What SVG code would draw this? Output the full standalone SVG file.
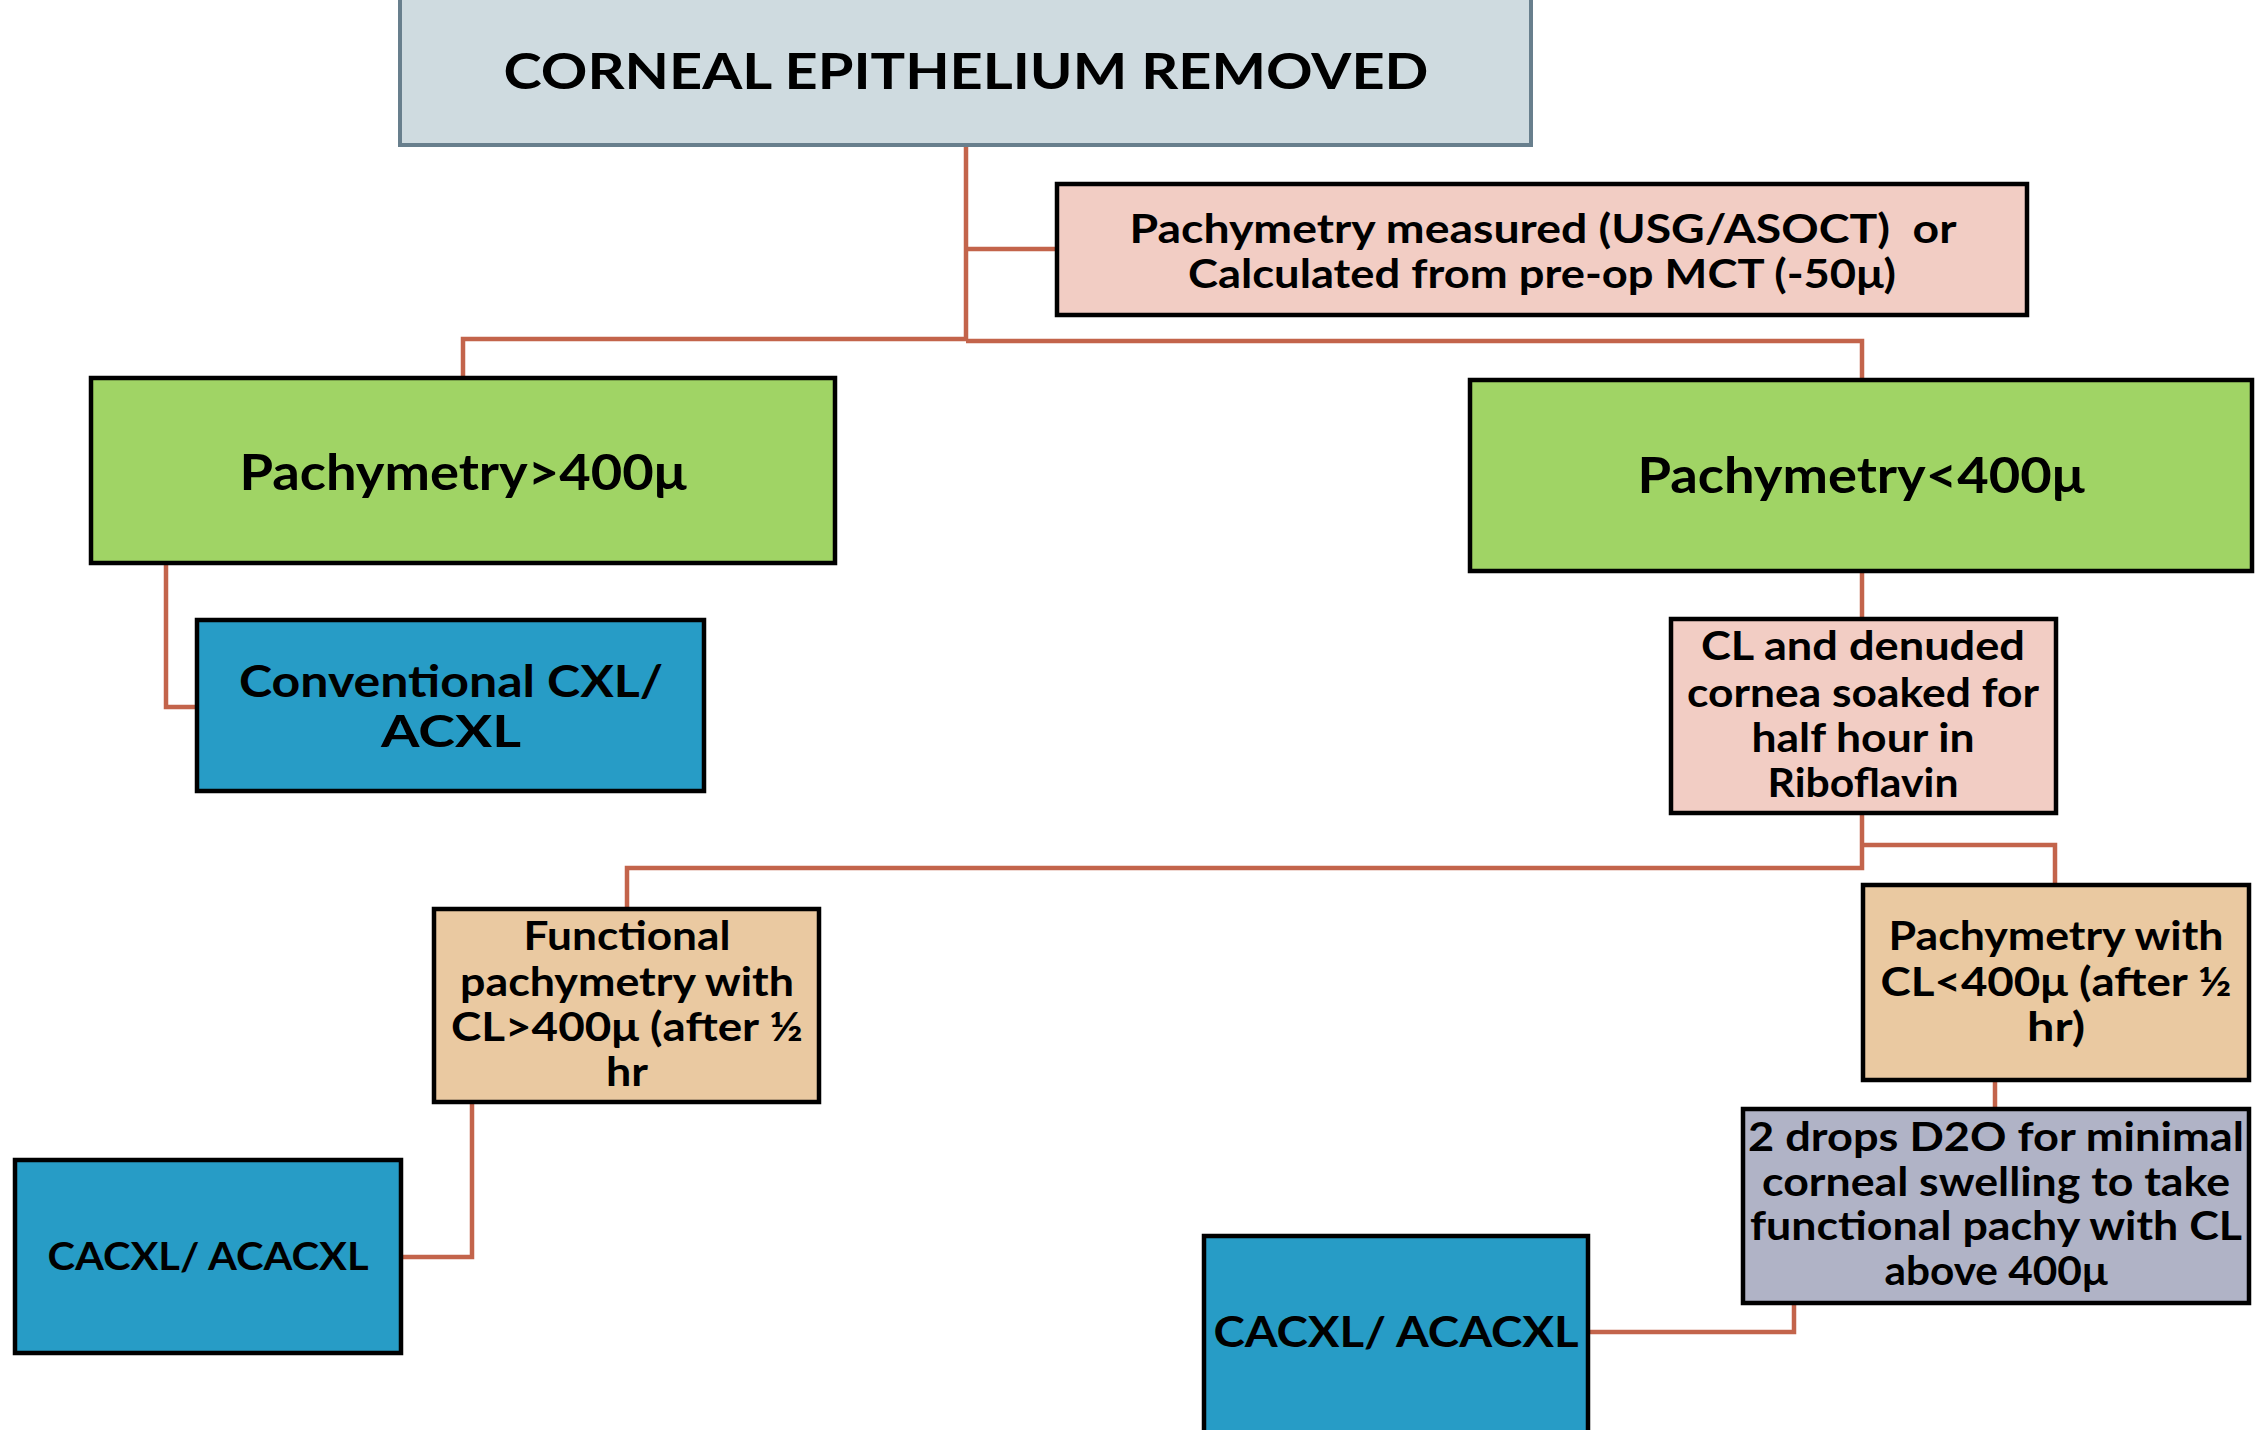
<svg xmlns="http://www.w3.org/2000/svg" width="2256" height="1430" viewBox="0 0 2256 1430">
<style>
.box{stroke:#000;stroke-width:4.5}
.top{fill:#cfdbe0;stroke:#687f8d;stroke-width:4}
.pink{fill:#f2cdc4}
.green{fill:#a0d465}
.blue{fill:#279cc6}
.tan{fill:#eac9a1}
.lav{fill:#b0b3c6}
text{font-family:Lato,"Liberation Sans",sans-serif;font-weight:bold;fill:#000;text-anchor:middle}
.con{fill:none;stroke:#c3644b;stroke-width:4.5;stroke-linejoin:miter}
</style>
<rect width="2256" height="1430" fill="#fff"/>
<g id="connectors">
<path class="con" d="M966,145 V340"/>
<path class="con" d="M966,249 H1057"/>
<path class="con" d="M966,339 H463 V378"/>
<path class="con" d="M966,341 H1862 V380"/>
<path class="con" d="M166,563 V707 H197"/>
<path class="con" d="M1862,571 V618"/>
<path class="con" d="M1862,813 V868 H627 V909"/>
<path class="con" d="M1862,845 H2055 V885"/>
<path class="con" d="M472,1102 V1257 H401"/>
<path class="con" d="M1995,1080 V1109"/>
<path class="con" d="M1794,1303 V1332 H1588"/>
</g>
<g id="n-top">
<rect class="top" x="400" y="-10" width="1131" height="155"/>
<text x="966" y="89" font-size="50" textLength="925" lengthAdjust="spacingAndGlyphs">CORNEAL EPITHELIUM REMOVED</text>
</g>
<g id="n-measured">
<rect class="box pink" x="1057" y="184" width="970" height="131"/>
<text x="1543" y="243" font-size="40" textLength="827" lengthAdjust="spacingAndGlyphs" xml:space="preserve">Pachymetry measured (USG/ASOCT)  or</text>
<text x="1542" y="288" font-size="40" textLength="708" lengthAdjust="spacingAndGlyphs">Calculated from pre-op MCT (-50μ)</text>
</g>
<g id="n-gt400">
<rect class="box green" x="91" y="378" width="744" height="185"/>
<text x="463" y="490" font-size="50" textLength="447" lengthAdjust="spacingAndGlyphs">Pachymetry&gt;400μ</text>
</g>
<g id="n-lt400">
<rect class="box green" x="1470" y="380" width="782" height="191"/>
<text x="1861" y="493" font-size="50" textLength="447" lengthAdjust="spacingAndGlyphs">Pachymetry&lt;400μ</text>
</g>
<g id="n-conventional">
<rect class="box blue" x="197" y="620" width="507" height="171"/>
<text x="451" y="697" font-size="44" textLength="424" lengthAdjust="spacingAndGlyphs">Conventional CXL/</text>
<text x="451" y="747" font-size="44" textLength="140" lengthAdjust="spacingAndGlyphs">ACXL</text>
</g>
<g id="n-cl-soak">
<rect class="box pink" x="1671" y="619" width="385" height="194"/>
<text x="1863" y="660" font-size="40" textLength="324" lengthAdjust="spacingAndGlyphs">CL and denuded</text>
<text x="1863" y="707" font-size="40" textLength="352" lengthAdjust="spacingAndGlyphs">cornea soaked for</text>
<text x="1863" y="752" font-size="40" textLength="223" lengthAdjust="spacingAndGlyphs">half hour in</text>
<text x="1863" y="797" font-size="40" textLength="191" lengthAdjust="spacingAndGlyphs">Riboflavin</text>
</g>
<g id="n-functional">
<rect class="box tan" x="434" y="909" width="385" height="193"/>
<text x="627" y="950" font-size="40" textLength="207" lengthAdjust="spacingAndGlyphs">Functional</text>
<text x="627" y="996" font-size="40" textLength="334" lengthAdjust="spacingAndGlyphs">pachymetry with</text>
<text x="627" y="1041" font-size="40" textLength="352" lengthAdjust="spacingAndGlyphs">CL&gt;400μ (after ½</text>
<text x="627" y="1086" font-size="40" textLength="42" lengthAdjust="spacingAndGlyphs">hr</text>
</g>
<g id="n-cl-lt400">
<rect class="box tan" x="1863" y="885" width="386" height="195"/>
<text x="2056" y="950" font-size="40" textLength="335" lengthAdjust="spacingAndGlyphs">Pachymetry with</text>
<text x="2056" y="996" font-size="40" textLength="351" lengthAdjust="spacingAndGlyphs">CL&lt;400μ (after ½</text>
<text x="2056" y="1041" font-size="40" textLength="58" lengthAdjust="spacingAndGlyphs">hr)</text>
</g>
<g id="n-d2o">
<rect class="box lav" x="1743" y="1109" width="506" height="194"/>
<text x="1996" y="1151" font-size="40" textLength="496" lengthAdjust="spacingAndGlyphs">2 drops D2O for minimal</text>
<text x="1996" y="1196" font-size="40" textLength="468" lengthAdjust="spacingAndGlyphs">corneal swelling to take</text>
<text x="1996" y="1240" font-size="40" textLength="492" lengthAdjust="spacingAndGlyphs">functional pachy with CL</text>
<text x="1996" y="1285" font-size="40" textLength="223" lengthAdjust="spacingAndGlyphs">above 400μ</text>
</g>
<g id="n-cacxl-left">
<rect class="box blue" x="15" y="1160" width="386" height="193"/>
<text x="208" y="1270" font-size="38" textLength="321" lengthAdjust="spacingAndGlyphs">CACXL/ ACACXL</text>
</g>
<g id="n-cacxl-right">
<rect class="box blue" x="1204" y="1236" width="384" height="200"/>
<text x="1396" y="1347" font-size="42" textLength="365" lengthAdjust="spacingAndGlyphs">CACXL/ ACACXL</text>
</g>
</svg>
